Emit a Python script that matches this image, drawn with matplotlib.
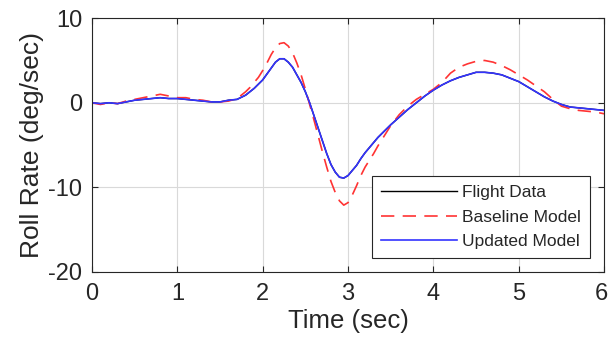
import numpy as np
import matplotlib.pyplot as plt
from matplotlib.transforms import offset_copy

plt.rcParams['font.family'] = ['Liberation Sans', 'DejaVu Sans']
plt.rcParams['axes.unicode_minus'] = False

time_sec = [0.0, 0.1, 0.2, 0.3, 0.4, 0.5, 0.6, 0.7, 0.8, 0.9,
            1.0, 1.1, 1.2, 1.3, 1.4, 1.5, 1.6, 1.7,
            1.8, 1.85, 1.9, 1.95, 2.0, 2.05, 2.1, 2.15, 2.2, 2.25,
            2.3, 2.35, 2.4, 2.45, 2.5, 2.55, 2.6, 2.65, 2.7, 2.75,
            2.8, 2.85, 2.9, 2.95, 3.0, 3.05, 3.1, 3.15, 3.2, 3.25,
            3.3, 3.35, 3.4,
            3.5, 3.6, 3.7, 3.8, 3.9,
            4.0, 4.1, 4.2, 4.3, 4.4, 4.5, 4.6, 4.7, 4.8, 4.9,
            5.0, 5.1, 5.2, 5.3, 5.4, 5.5, 5.6, 5.7, 5.8, 5.9, 6.0]

updated_model = [0.0, -0.1, 0.0, -0.1, 0.1, 0.3, 0.4, 0.5, 0.6, 0.5,
                 0.5, 0.4, 0.3, 0.2, 0.1, 0.1, 0.3, 0.4,
                 0.9, 1.3, 1.7, 2.2, 2.7, 3.4, 4.1, 4.8, 5.2, 5.2,
                 4.8, 4.2, 3.3, 2.4, 1.3, 0.0, -1.5, -3.0, -4.5, -6.0,
                 -7.3, -8.2, -8.8, -8.9, -8.6, -8.0, -7.4, -6.6, -5.9, -5.3,
                 -4.7, -4.1, -3.6,
                 -2.6, -1.7, -0.8, 0.0, 0.8,
                 1.5, 2.1, 2.6, 3.0, 3.3, 3.6, 3.6, 3.5, 3.3, 2.9,
                 2.5, 1.9, 1.3, 0.7, 0.2, -0.2, -0.5, -0.6, -0.7, -0.8, -0.9]

# flight data sits right under the updated model in the picture
flight_data = list(updated_model)

baseline_model = [0.0, -0.2, 0.0, -0.1, 0.2, 0.4, 0.6, 0.8, 1.0, 0.8,
                  0.6, 0.6, 0.4, 0.3, 0.1, 0.1, 0.2, 0.5,
                  1.3, 1.8, 2.4, 3.0, 3.8, 4.7, 5.7, 6.5, 7.0, 7.1,
                  6.7, 5.9, 4.7, 3.3, 1.6, -0.2, -2.0, -3.9, -5.8, -7.6,
                  -9.3, -10.6, -11.6, -12.1, -11.8, -10.9, -9.8, -8.6, -7.6, -6.8,
                  -6.0, -5.1, -4.3,
                  -2.7, -1.4, -0.4, 0.4, 1.0,
                  1.6, 2.4, 3.5, 4.2, 4.6, 4.9, 5.0, 4.8, 4.4, 3.9,
                  3.3, 2.7, 2.0, 1.3, 0.4, -0.4, -0.7, -0.9, -1.0, -1.1, -1.3]

x_ticks = [0, 1, 2, 3, 4, 5, 6]
y_ticks = [-20, -10, 0, 10]


def main():
    fig = plt.figure(figsize=(6.09, 3.56), dpi=100)
    ax = fig.add_axes([0.151, 0.236, 0.841, 0.713])

    ax.plot(time_sec, flight_data, color="black", lw=1.0, label="Flight Data")
    ax.plot(time_sec, baseline_model, color=(1.0, 0.2, 0.2), lw=1.2,
            dashes=(8, 5), label="Baseline Model")
    ax.plot(time_sec, updated_model, color=(0.2, 0.2, 1.0), lw=1.2,
            label="Updated Model")

    ax.set_xlim(0, 6)
    ax.set_ylim(-20, 10)
    ax.set_xticks(x_ticks)
    ax.set_yticks(y_ticks)
    ax.grid(True, color="#d9d9d9", lw=0.8)
    ax.set_axisbelow(True)
    ax.tick_params(direction="in", top=True, right=True, labelsize=17,
                   length=4, color="#262626", labelcolor="#262626")
    ax.tick_params(axis="x", pad=8)
    ax.tick_params(axis="y", pad=7)
    for s in ax.spines.values():
        s.set_color("#262626")
        s.set_linewidth(0.8)

    # last x label hugs the right edge of the figure
    fig.canvas.draw()
    last = ax.get_xticklabels()[-1]
    last.set_transform(offset_copy(last.get_transform(), fig=fig, x=-3, units="dots"))

    ax.set_xlabel("Time (sec)", fontsize=18.5, color="#262626", labelpad=3)
    ax.set_ylabel("Roll Rate (deg/sec)", fontsize=19, color="#262626", labelpad=3)

    leg = ax.legend(loc="lower right", bbox_to_anchor=(0.972, 0.055),
                    fontsize=12.5, handlelength=4.4, handletextpad=0.3,
                    borderpad=0.5, labelspacing=0.55, fancybox=False,
                    framealpha=1, edgecolor="#262626", borderaxespad=0)
    leg.get_frame().set_linewidth(0.8)
    for t in leg.get_texts():
        t.set_color("#262626")

    fig.savefig("out.png", dpi=100)


if __name__ == "__main__":
    main()
